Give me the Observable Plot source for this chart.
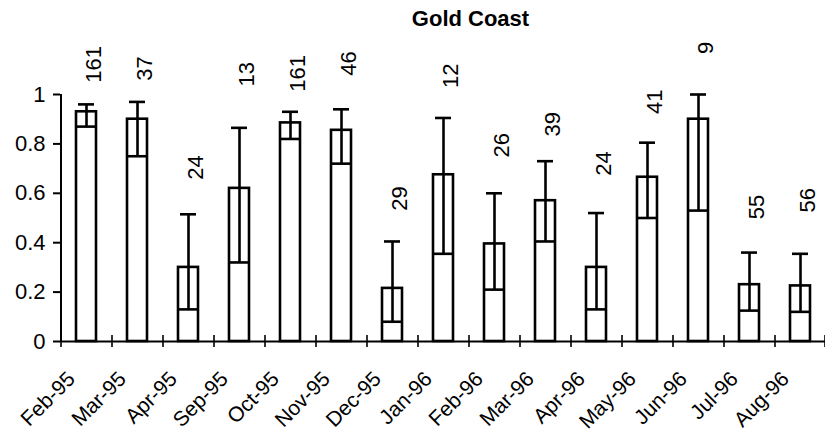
<!DOCTYPE html>
<html>
<head>
<meta charset="utf-8">
<script src="https://cdn.jsdelivr.net/npm/d3@7"></script>
<script src="https://cdn.jsdelivr.net/npm/@observablehq/plot@0.6"></script>
<style>
  html, body { margin: 0; padding: 0; background: #fff; }
  svg { font-family: Arial, "Liberation Sans", sans-serif; }
</style>
</head>
<body>
<div id="chart"></div>
<script>
const title = "Gold Coast";
const months = ["Feb-95","Mar-95","Apr-95","Sep-95","Oct-95","Nov-95","Dec-95","Jan-96","Feb-96","Mar-96","Apr-96","May-96","Jun-96","Jul-96","Aug-96"];
const meanValues = [0.93, 0.90, 0.30, 0.62, 0.885, 0.855, 0.215, 0.675, 0.395, 0.57, 0.30, 0.665, 0.90, 0.23, 0.225];
const lowerValues = [0.87, 0.75, 0.13, 0.32, 0.82, 0.72, 0.08, 0.355, 0.21, 0.405, 0.13, 0.50, 0.53, 0.125, 0.12];
const upperValues = [0.96, 0.97, 0.515, 0.865, 0.93, 0.94, 0.405, 0.905, 0.60, 0.73, 0.52, 0.805, 1.0, 0.36, 0.355];
const sampleSizes = [161, 37, 24, 13, 161, 46, 29, 12, 26, 39, 24, 41, 9, 55, 56];
const labelValues = [1.048, 1.056, 0.655, 1.032, 1.011, 1.076, 0.529, 1.026, 0.745, 0.83, 0.671, 0.921, 1.164, 0.495, 0.522];
const yTicks = [0, 0.2, 0.4, 0.6, 0.8, 1];
const yTickLabels = ["0", "0.2", "0.4", "0.6", "0.8", "1"];

const data = months.map((m, i) => ({
  month: m, mean: meanValues[i], lower: lowerValues[i], upper: upperValues[i],
  n: sampleSizes[i], labelY: labelValues[i]
}));

const W = 825, H = 433, ML = 60, MR = 0, MT = 94, MB = 92;
const step = (W - ML - MR) / months.length;
const lastMonth = [months[months.length - 1]];

const chart = Plot.plot({
  width: W, height: H,
  marginLeft: ML, marginRight: MR, marginTop: MT, marginBottom: MB,
  style: {fontFamily: 'Arial, "Liberation Sans", sans-serif', background: "#fff", color: "#000"},
  x: {domain: months, paddingInner: 0.61, paddingOuter: 0.305, axis: null},
  y: {domain: [0, 1], axis: null},
  marks: [
    Plot.barY(data, {x: "month", y1: 0, y2: "mean", fill: "#fff", stroke: "#000", strokeWidth: 2.6}),
    Plot.tickY(data, {x: "month", y: "lower", stroke: "#000", strokeWidth: 2.6}),
    Plot.ruleX(data, {x: "month", y1: "lower", y2: "upper", stroke: "#000", strokeWidth: 2.6}),
    Plot.tickY(data, {x: "month", y: "upper", stroke: "#000", strokeWidth: 2.6, insetLeft: 2, insetRight: 2}),
    // axis lines
    Plot.ruleY([0], {stroke: "#000", strokeWidth: 2}),
    Plot.ruleX([months[0]], {y1: 0, y2: 1, dx: -step / 2, stroke: "#000", strokeWidth: 2}),
    // x boundary ticks
    Plot.ruleX(months, {x: d => d, y1: 0, y2: 0, insetTop: -6, insetBottom: -6, dx: -step / 2, stroke: "#000", strokeWidth: 1.6}),
    Plot.ruleX(lastMonth, {x: d => d, y1: 0, y2: 0, insetTop: -6, insetBottom: -6, dx: step / 2 - 1, stroke: "#000", strokeWidth: 1.6}),
    // y axis
    Plot.axisY({ticks: yTicks, tickSize: 7, tickPadding: 8, strokeWidth: 2,
      tickFormat: d => yTickLabels[yTicks.indexOf(d)], fontSize: 22, fill: "#000"}),
    // x labels
    Plot.text(months, {x: d => d, frameAnchor: "bottom", dy: 34, dx: -15, rotate: -45,
      textAnchor: "end", lineAnchor: "middle", fontSize: 21, fill: "#000"}),
    // sample size labels
    Plot.text(data, {x: "month", y: "labelY", text: d => String(d.n), rotate: -90, dx: 7,
      textAnchor: "start", lineAnchor: "middle", fontSize: 22, fill: "#000"}),
    // title
    Plot.text([title], {frameAnchor: "top", dx: 27.5, dy: -75.5, lineAnchor: "middle",
      fontSize: 22, fontWeight: "bold", fill: "#000"})
  ]
});
document.getElementById("chart").appendChild(chart);
</script>
</body>
</html>
